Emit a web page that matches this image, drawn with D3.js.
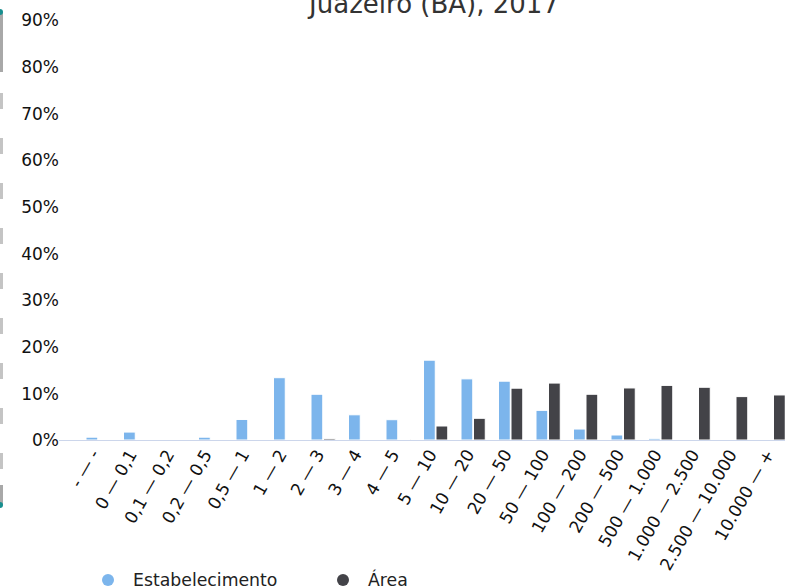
<!DOCTYPE html>
<html><head><meta charset="utf-8">
<script src="https://cdn.jsdelivr.net/npm/d3@7"></script>
<style>html,body{margin:0;padding:0;background:#fff;overflow:hidden}svg{display:block;font-family:"DejaVu Sans",sans-serif}</style>
</head><body><svg id="c" width="785" height="587"></svg>
<script>
const title = "Juazeiro (BA), 2017";
const categories = ["- \u2014 -","0 \u2014 0,1","0,1 \u2014 0,2","0,2 \u2014 0,5","0,5 \u2014 1","1 \u2014 2","2 \u2014 3","3 \u2014 4","4 \u2014 5","5 \u2014 10","10 \u2014 20","20 \u2014 50","50 \u2014 100","100 \u2014 200","200 \u2014 500","500 \u2014 1.000","1.000 \u2014 2.500","2.500 \u2014 10.000","10.000 \u2014 +"];
const seriesNames = ["Estabelecimento","\u00c1rea"];
const estabelecimento = [0.6,1.7,0,0.6,4.4,13.35,9.8,5.4,4.35,17.1,13.1,12.6,6.35,2.35,1.07,0.35,0,0,0];
const area = [0,0,0,0,0,0.15,0.3,0.2,0.15,3.0,4.65,11.1,12.2,9.8,11.15,11.7,11.3,9.3,9.65];
const yTicks = [0,10,20,30,40,50,60,70,80,90];
const colors = ["#7cb5ec","#434348"];

const svg = d3.select("#c");
const x0 = d3.scaleBand().domain(categories).range([79.25, 791.75]).padding(0);
const x1 = d3.scaleBand().domain(seriesNames).range([6.75, 31]).paddingInner(0.06);
const y = d3.scaleLinear().domain([0, 90]).range([440, 20]);

// left decoration (scroll/navigator)
const deco = svg.append("g");
deco.append("line").attr("x1",1.5).attr("x2",1.5).attr("y1",12).attr("y2",72).attr("stroke","#a8a8a8").attr("stroke-width",3);
deco.append("line").attr("x1",1.5).attr("x2",1.5).attr("y1",93).attr("y2",470).attr("stroke","#c4c4c4").attr("stroke-width",3).attr("stroke-dasharray","16 29");
deco.append("line").attr("x1",1.5).attr("x2",1.5).attr("y1",485).attr("y2",505).attr("stroke","#a8a8a8").attr("stroke-width",3);
deco.append("circle").attr("cx",0).attr("cy",12).attr("r",3).attr("fill","#178f8f");
deco.append("circle").attr("cx",0).attr("cy",505).attr("r",3).attr("fill","#178f8f");

// title
svg.append("text").attr("x",434).attr("y",13).attr("text-anchor","middle").attr("font-size",26).attr("fill","#333").text(title);

// y axis labels
const yAxis = d3.axisLeft(y).tickValues(yTicks).tickSize(0).tickPadding(0).tickFormat(d => d + "%");
const gy = svg.append("g").attr("transform","translate(59,0)").call(yAxis);
gy.select(".domain").remove();
gy.selectAll("text").attr("font-size",17).attr("font-family","DejaVu Sans").attr("fill","#111").attr("dy","0.35em");

// bars
const data = categories.map((c,i)=>({cat:c, vals:[estabelecimento[i], area[i]]}));
const groups = svg.append("g").selectAll("g").data(data).join("g").attr("transform", d => `translate(${x0(d.cat)},0)`);
groups.selectAll("rect").data(d => d.vals.map((v,k)=>({k, v}))).join("rect")
  .attr("x", d => x1(seriesNames[d.k]))
  .attr("width", x1.bandwidth())
  .attr("y", d => y(d.v))
  .attr("height", d => y(0) - y(d.v))
  .attr("fill", d => colors[d.k])
  .attr("stroke","#fff").attr("stroke-width",1);

// x axis
const xAxis = d3.axisBottom(x0).tickSize(0).tickPadding(0);
const gx = svg.append("g").attr("transform","translate(0,440)").call(xAxis);
gx.select(".domain").attr("d","M59,0.5H785").attr("stroke","#ccd6eb").attr("stroke-width",1);
gx.selectAll("text").attr("font-size",17).attr("font-family","DejaVu Sans").attr("fill","#111")
  .attr("text-anchor","end").attr("dy",null).attr("y",null)
  .attr("transform","translate(2,14) rotate(-60)");

// legend
const leg = svg.append("g");
const legX = [108, 343];
seriesNames.forEach((s,k)=>{
  leg.append("circle").attr("cx",legX[k]).attr("cy",580).attr("r",6).attr("fill",colors[k]);
  leg.append("text").attr("x",legX[k]+25).attr("y",586).attr("font-size",17.3).attr("fill","#222").text(s);
});
</script></body></html>
